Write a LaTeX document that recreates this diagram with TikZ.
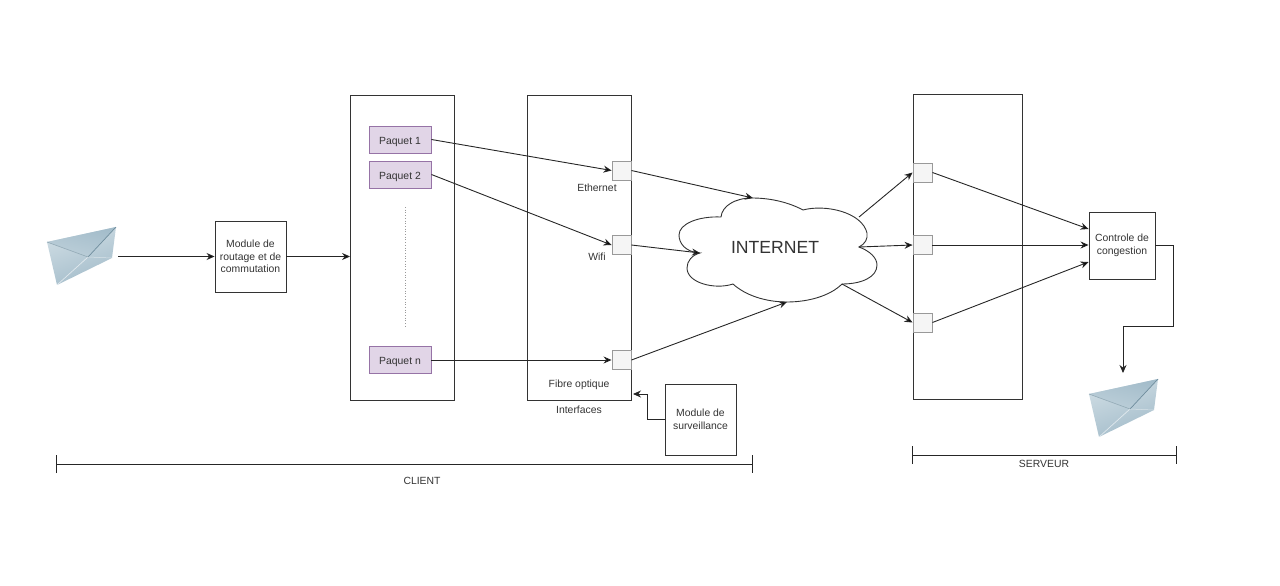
\documentclass[tikz,border=0pt]{standalone}
\usepackage{fontspec}
\setmainfont{Liberation Sans}
\usetikzlibrary{arrows.meta,positioning}
\definecolor{inkgray}{HTML}{333333}
\definecolor{pktfill}{HTML}{E1D5E7}
\definecolor{pktdraw}{HTML}{9673A6}
\definecolor{portfill}{HTML}{F5F5F5}
\definecolor{portdraw}{HTML}{999999}
\definecolor{mailA}{HTML}{A3BCCA}
\definecolor{mailB}{HTML}{CFDDE4}
\definecolor{mailC}{HTML}{6F8D9D}
\newcommand{\lbl}{\fontsize{10.4}{12.5}\selectfont}
\tikzset{
	mail/.pic={
		\path[left color=mailB,right color=mailA,shading angle=20] (0,0) -- (69,-15) -- (65,16) -- (10,43) -- cycle;
		\path[top color=mailA,bottom color=mailB!60!mailA,shading angle=-15] (0,0) -- (69,-15) -- (41,15) -- cycle;
		\draw[white,opacity=.6,line width=.7pt] (10,43) -- (41,15);
		\draw[mailC,line width=.7pt] (41,15) -- (69,-15);
		\draw[mailC!75,line width=.6pt] (0,0) -- (41,15);
		\draw[white,opacity=.5,line width=.5pt] (41,15) -- (65,16);
	}
}

\begin{document}
\begin{tikzpicture}[x=1pt,y=-1pt,node distance=35pt,on grid,>={Stealth[length=8pt,width=7pt]},auto,line width=.9pt,
		state/.style={rectangle,draw=inkgray,inner sep=0pt,align=center,text=inkgray,font=\lbl},
		pkt/.style={rectangle,draw=pktdraw,fill=pktfill,inner sep=0pt,minimum width=62pt,minimum height=27pt,text height=9pt,text depth=0pt,text=inkgray,font=\lbl},
		port/.style={rectangle,draw=portdraw,fill=portfill,inner sep=0pt,minimum size=19pt},
		lab/.style={text=inkgray,font=\lbl,inner sep=0pt},
		conn/.style={draw=black!85}]
		\useasboundingbox (0,0) rectangle (1280,586);

		\pic at (47,242) {mail};
		\pic at (1089,394) {mail};
		\coordinate (mailIn) at (118,256.5);
		\coordinate (mailOut) at (1123,373);

		\node[state,minimum width=71pt,minimum height=71pt] (routage) at (250.5,256.5) {Module de\\routage et de\\commutation};
		\node[state,minimum width=104pt,minimum height=305pt] (client) at (402.5,247.5) {};
		\node[state,minimum width=104pt,minimum height=305pt] (iface) at (579,247.5) {};
		\node[state,minimum width=109pt,minimum height=305pt] (serveur) at (967.5,246.5) {};
		\node[state,minimum width=66pt,minimum height=67pt] (congestion) at (1122,245.5) {Controle de\\congestion};
		\node[state,minimum width=71pt,minimum height=71pt] (surveil) at (700.5,419.5) {Module de\\surveillance};

		\node[pkt] (pkt1) at (400,139.5) {Paquet 1};
		\node[pkt] (pkt2) [below=of pkt1] {Paquet 2};
		\node[pkt] (pktN) at (400,360) {Paquet n};
		\draw[portdraw,dotted,line width=.7pt] (405,207) -- (405,327);

		\node[port] (eth) at (621.5,170.5) {};
		\node[port] (wifi) at (621.5,245) {};
		\node[port] (fibre) at (621.5,360) {};
		\node[port] (srvA) at (922.5,172.5) {};
		\node[port] (srvB) at (922.5,245) {};
		\node[port] (srvC) at (922.5,322.5) {};

		\node[lab] (ethLab) at (597,187.5) {Ethernet};
		\node[lab] (wifiLab) at (597,256.5) {Wifi};
		\node[lab] (fibreLab) at (579,385) {Fibre optique};
		\node[lab] (ifaceLab) at (579,409.5) {Interfaces};

		\draw[draw=inkgray,fill=white] (700,253) .. controls (685,252) and (679,243) .. (679,235)
			.. controls (679,224) and (698,216) .. (721,217)
			.. controls (722,206) and (735,198) .. (752,198)
			.. controls (772,198) and (790,203) .. (803,210)
			.. controls (825,204) and (862,212) .. (867,233)
			.. controls (868,239) and (865,244) .. (859,247)
			.. controls (870,251) and (877,258) .. (877,265)
			.. controls (877,277) and (862,284) .. (842,284)
			.. controls (830,296) and (808,302) .. (787,302)
			.. controls (765,302) and (745,295) .. (733,284)
			.. controls (715,290) and (687,283) .. (687,268)
			.. controls (687,261) and (692,255) .. (700,253) -- cycle;
		\node[text=inkgray,inner sep=0pt,font=\fontsize{17.6}{20}\selectfont] (internet) at (775,247.5) {INTERNET};
		\coordinate (cloudEth) at (753,198);
		\coordinate (cloudWifi) at (700,253);
		\coordinate (cloudFibre) at (787,302);
		\coordinate (cloudA) at (859,217);
		\coordinate (cloudB) at (859,247);
		\coordinate (cloudC) at (842,284);

		\path[conn,every edge/.append style={->}]
		(mailIn) edge (routage)
		(routage) edge (client.west |- routage)
		(pkt1.east) edge (eth.west)
		(pkt2.east) edge (wifi.west)
		(pktN.east) edge (fibre.west)
		(eth.east) edge (cloudEth)
		(wifi.east) edge (cloudWifi)
		(fibre.east) edge (cloudFibre)
		(cloudA) edge (srvA.west)
		(cloudB) edge (srvB.west)
		(cloudC) edge (srvC.west)
		(srvA.east) edge ([yshift=16.5pt]congestion.west)
		(srvB.east) edge ([yshift=.5pt]congestion.west)
		(srvC.east) edge ([yshift=-16.5pt]congestion.west);

		\coordinate (survTurn) at (647,394);
		\coordinate (survEnd) at (633,394);
		\draw[->,conn] (surveil.west) -| (survTurn) -- (survEnd);
		\coordinate (congA) at (1173,245.5);
		\coordinate (congB) at (1173,326);
		\coordinate (congC) at (1123,326);
		\draw[->,conn] (congestion.east) -- (congA) -- (congB) -- (congC) -- (mailOut);

		\coordinate (clientL) at (56,464);
		\coordinate (clientR) at (753,464);
		\coordinate (serveurL) at (912,455);
		\coordinate (serveurR) at (1177,455);
		\draw[{Bar[width=18pt]}-{Bar[width=18pt]},conn,line width=.8pt] (clientL) -- (clientR);
		\draw[{Bar[width=18pt]}-{Bar[width=18pt]},conn,line width=.8pt] (serveurL) -- (serveurR);
		\node[lab] (clientLab) at (422,481) {CLIENT};
		\node[lab] (serveurLab) at (1044,464) {SERVEUR};
		\end{tikzpicture}
\end{document}
